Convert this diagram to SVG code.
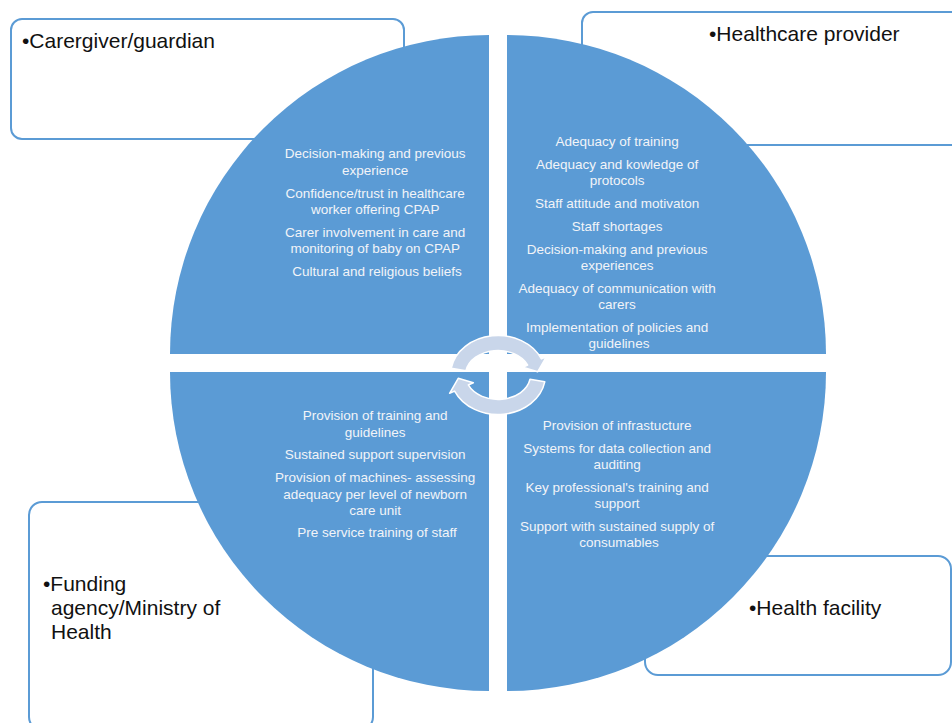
<svg xmlns="http://www.w3.org/2000/svg" width="952" height="723" viewBox="0 0 952 723">
<style>
.box{fill:#ffffff;stroke:#5B9BD5;stroke-width:2}
.lbl{font-family:"Liberation Sans",Arial,sans-serif;font-size:21px;fill:#111111}
.q{fill:#5B9BD5}
.qt{font-family:"Liberation Sans",Arial,sans-serif;font-size:13.5px;fill:#F2F4F8;text-anchor:middle}
.cyc{fill:#C9D6EA;stroke:#ffffff;stroke-width:1.5;stroke-linejoin:round}
</style>
<rect x="0" y="0" width="952" height="723" fill="#ffffff"/>

<g id="box-caregiver">
<rect class="box" x="11" y="19" width="393" height="120" rx="11"/>
<text class="lbl" x="22" y="48">•Carergiver/guardian</text>
</g>
<g id="box-healthcare-provider">
<rect class="box" x="582" y="12" width="400" height="133" rx="11"/>
<text class="lbl" x="709" y="41">•Healthcare provider</text>
</g>
<g id="box-funding">
<rect class="box" x="29" y="502" width="344" height="228" rx="13"/>
<text class="lbl" x="43" y="591">•Funding</text>
<text class="lbl" x="51" y="615">agency/Ministry of</text>
<text class="lbl" x="51" y="639">Health</text>
</g>
<g id="box-health-facility">
<rect class="box" x="645" y="556" width="306" height="119" rx="13"/>
<text class="lbl" x="749" y="615">•Health facility</text>
</g>

<g id="quad-caregiver">
<path class="q" d="M489,354 L170,354 A319,319 0 0 1 489,35 Z"/>
<text class="qt">
<tspan x="377" y="158">Decision-making and previous</tspan>
<tspan x="377" y="175">experience</tspan>
<tspan x="377" y="198">Confidence/trust in healthcare</tspan>
<tspan x="377" y="214">worker offering CPAP</tspan>
<tspan x="377" y="237">Carer involvement in care and</tspan>
<tspan x="377" y="253">monitoring of baby on CPAP</tspan>
<tspan x="377" y="276">Cultural and religious beliefs</tspan>
</text>
</g>
<g id="quad-healthcare-provider">
<path class="q" d="M507,354 L507,35 A319,319 0 0 1 826,354 Z"/>
<text class="qt">
<tspan x="619" y="146">Adequacy of training</tspan>
<tspan x="619" y="169">Adequacy and kowledge of</tspan>
<tspan x="619" y="185">protocols</tspan>
<tspan x="619" y="208">Staff attitude and motivaton</tspan>
<tspan x="619" y="231">Staff shortages</tspan>
<tspan x="619" y="254">Decision-making and previous</tspan>
<tspan x="619" y="270">experiences</tspan>
<tspan x="619" y="293">Adequacy of communication with</tspan>
<tspan x="619" y="309">carers</tspan>
<tspan x="619" y="332">Implementation of policies and</tspan>
<tspan x="619" y="348">guidelines</tspan>
</text>
</g>
<g id="quad-funding">
<path class="q" d="M489,372 L489,691 A319,319 0 0 1 170,372 Z"/>
<text class="qt">
<tspan x="377" y="420">Provision of training and</tspan>
<tspan x="377" y="437">guidelines</tspan>
<tspan x="377" y="459">Sustained support supervision</tspan>
<tspan x="377" y="482">Provision of machines- assessing</tspan>
<tspan x="377" y="499">adequacy per level of newborn</tspan>
<tspan x="377" y="515">care unit</tspan>
<tspan x="377" y="537">Pre service training of staff</tspan>
</text>
</g>
<g id="quad-health-facility">
<path class="q" d="M507,372 L826,372 A319,319 0 0 1 507,691 Z"/>
<text class="qt">
<tspan x="619" y="430">Provision of infrastucture</tspan>
<tspan x="619" y="453">Systems for data collection and</tspan>
<tspan x="619" y="469">auditing</tspan>
<tspan x="619" y="492">Key professional's training and</tspan>
<tspan x="619" y="508">support</tspan>
<tspan x="619" y="531">Support with sustained supply of</tspan>
<tspan x="619" y="547">consumables</tspan>
</text>
</g>

<g id="connectors">
<defs>
<path id="cycArrow" d="M451.22,368.14 A47.5,39.5 0 0 1 541.39,358.93 L546.42,356.70 L537.78,371.66 L522.67,367.27 L527.69,365.03 A32.5,24.5 0 0 0 465.99,370.75 Z"/>
</defs>
<use href="#cycArrow" class="cyc"/>
<use href="#cycArrow" class="cyc" transform="rotate(180 498 375)"/>
</g>
</svg>
